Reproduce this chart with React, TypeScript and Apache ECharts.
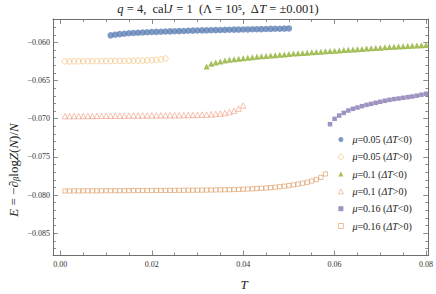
import React, { useEffect, useRef } from "react";
import * as echarts from "echarts";

// ---- data ----
const T_B = [0.011,0.012,0.013,0.014,0.015,0.016,0.017,0.018,0.019,0.020,0.021,0.022,0.023,0.024,0.025,0.026,0.027,0.028,0.029,0.030,0.031,0.032,0.033,0.034,0.035,0.036,0.037,0.038,0.039,0.040,0.041,0.042,0.043,0.044,0.045,0.046,0.047,0.048,0.049,0.050];
const E_B = [-0.05908,-0.05899,-0.05892,-0.05886,-0.05881,-0.05877,-0.05873,-0.05870,-0.05867,-0.05864,-0.05862,-0.05860,-0.05858,-0.05856,-0.05854,-0.05852,-0.05850,-0.05848,-0.05846,-0.05845,-0.05843,-0.05842,-0.05840,-0.05839,-0.05837,-0.05836,-0.05835,-0.05833,-0.05832,-0.05831,-0.05830,-0.05828,-0.05827,-0.05826,-0.05825,-0.05823,-0.05822,-0.05821,-0.05819,-0.05817];

const T_O = [0.001,0.002,0.003,0.004,0.005,0.006,0.007,0.008,0.009,0.010,0.011,0.012,0.013,0.014,0.015,0.016,0.017,0.018,0.019,0.020,0.021,0.022,0.023];
const E_O = [-0.06249,-0.06249,-0.06248,-0.06248,-0.06247,-0.06247,-0.06246,-0.06246,-0.06245,-0.06245,-0.06244,-0.06244,-0.06243,-0.06242,-0.06241,-0.06240,-0.06239,-0.06237,-0.06235,-0.06233,-0.06228,-0.06222,-0.06212];

const T_G = [0.032,0.033,0.034,0.035,0.036,0.037,0.038,0.039,0.040,0.041,0.042,0.043,0.044,0.045,0.046,0.047,0.048,0.049,0.050,0.051,0.052,0.053,0.054,0.055,0.056,0.057,0.058,0.059,0.060,0.061,0.062,0.063,0.064,0.065,0.066,0.067,0.068,0.069,0.070,0.071,0.072,0.073,0.074,0.075,0.076,0.077,0.078,0.079,0.080];
const E_G = [-0.06315,-0.06280,-0.06262,-0.06250,-0.06238,-0.06228,-0.06221,-0.06214,-0.06207,-0.06200,-0.06194,-0.06188,-0.06182,-0.06177,-0.06172,-0.06167,-0.06162,-0.06157,-0.06152,-0.06147,-0.06142,-0.06138,-0.06134,-0.06129,-0.06125,-0.06121,-0.06117,-0.06113,-0.06109,-0.06105,-0.06101,-0.06097,-0.06093,-0.06089,-0.06085,-0.06081,-0.06077,-0.06073,-0.06069,-0.06065,-0.06061,-0.06058,-0.06054,-0.06050,-0.06047,-0.06044,-0.06041,-0.06038,-0.06035];

const T_R = [0.001,0.002,0.003,0.004,0.005,0.006,0.007,0.008,0.009,0.010,0.011,0.012,0.013,0.014,0.015,0.016,0.017,0.018,0.019,0.020,0.021,0.022,0.023,0.024,0.025,0.026,0.027,0.028,0.029,0.030,0.031,0.032,0.033,0.034,0.035,0.036,0.037,0.038,0.039,0.040];
const E_R = [-0.06966,-0.06965,-0.06965,-0.06964,-0.06964,-0.06963,-0.06963,-0.06962,-0.06962,-0.06961,-0.06961,-0.06960,-0.06960,-0.06959,-0.06959,-0.06958,-0.06958,-0.06957,-0.06957,-0.06956,-0.06956,-0.06955,-0.06955,-0.06954,-0.06953,-0.06953,-0.06952,-0.06951,-0.06950,-0.06949,-0.06947,-0.06945,-0.06942,-0.06938,-0.06932,-0.06924,-0.06912,-0.06895,-0.06868,-0.06827];

const T_P = [0.059,0.060,0.061,0.062,0.063,0.064,0.065,0.066,0.067,0.068,0.069,0.070,0.071,0.072,0.073,0.074,0.075,0.076,0.077,0.078,0.079,0.080];
const E_P = [-0.07071,-0.07001,-0.06958,-0.06923,-0.06892,-0.06870,-0.06853,-0.06835,-0.06818,-0.06805,-0.06791,-0.06778,-0.06765,-0.06752,-0.06743,-0.06735,-0.06726,-0.06717,-0.06709,-0.06698,-0.06686,-0.06673];

const T_S = [0.001,0.002,0.003,0.004,0.005,0.006,0.007,0.008,0.009,0.010,0.011,0.012,0.013,0.014,0.015,0.016,0.017,0.018,0.019,0.020,0.021,0.022,0.023,0.024,0.025,0.026,0.027,0.028,0.029,0.030,0.031,0.032,0.033,0.034,0.035,0.036,0.037,0.038,0.039,0.040,0.041,0.042,0.043,0.044,0.045,0.046,0.047,0.048,0.049,0.050,0.051,0.052,0.053,0.054,0.055,0.056,0.057,0.058];
const E_S = [-0.07946,-0.07946,-0.07945,-0.07945,-0.07945,-0.07944,-0.07944,-0.07944,-0.07943,-0.07943,-0.07943,-0.07942,-0.07942,-0.07942,-0.07941,-0.07941,-0.07941,-0.07940,-0.07940,-0.07940,-0.07939,-0.07939,-0.07939,-0.07938,-0.07938,-0.07937,-0.07937,-0.07936,-0.07936,-0.07935,-0.07935,-0.07934,-0.07933,-0.07932,-0.07931,-0.07930,-0.07929,-0.07927,-0.07925,-0.07923,-0.07921,-0.07918,-0.07915,-0.07911,-0.07907,-0.07902,-0.07897,-0.07890,-0.07883,-0.07875,-0.07866,-0.07856,-0.07845,-0.07832,-0.07816,-0.07796,-0.07768,-0.07723];

const X_MAJOR = [0, 0.02, 0.04, 0.06, 0.08];
const X_MINOR = [0.005,0.01,0.015,0.025,0.03,0.035,0.045,0.05,0.055,0.065,0.07,0.075];
const Y_MAJOR = [-0.085, -0.08, -0.075, -0.07, -0.065, -0.06];
const Y_MINOR = [-0.087,-0.086,-0.084,-0.083,-0.082,-0.081,-0.079,-0.078,-0.077,-0.076,-0.074,-0.073,-0.072,-0.071,-0.069,-0.068,-0.067,-0.066,-0.064,-0.063,-0.062,-0.061,-0.059,-0.058,-0.057];

const LEGEND_LABELS = [
  "{i|μ}=0.05 ({i|ΔT}<0)",
  "{i|μ}=0.05 ({i|ΔT}>0)",
  "{i|μ}=0.1 ({i|ΔT}<0)",
  "{i|μ}=0.1 ({i|ΔT}>0)",
  "{i|μ}=0.16 ({i|ΔT}<0)",
  "{i|μ}=0.16 ({i|ΔT}>0)",
];
const SERIES_KEYS = ["s1", "s2", "s3", "s4", "s5", "s6"];

const FONT = "'Liberation Serif', 'DejaVu Serif', serif";
const FRAME = "#6e6e6e";
const LABEL = "#333333";

const X_MIN = -0.00161, X_MAX = 0.0805;
const Y_MIN = -0.08791, Y_MAX = -0.056936;

function pairs(t: number[], e: number[]) {
  return t.map((v, i) => [v, e[i]]);
}

export default function App() {
  const ref = useRef<HTMLDivElement>(null);
  useEffect(() => {
    if (!ref.current) return;
    const chart = echarts.init(ref.current, null, { renderer: "svg" });

    const tickLbl = { fontFamily: FONT, fontSize: 8, color: LABEL };
    const xAx = (pos: string, vals: number[], len: number, labels: boolean, line: boolean) => ({
      type: "value", min: X_MIN, max: X_MAX, position: pos,
      axisLine: { show: line, onZero: false, lineStyle: { color: FRAME, width: 1 } },
      axisTick: { show: true, inside: true, length: len, customValues: vals, lineStyle: { color: FRAME, width: 0.8 } },
      axisLabel: labels
        ? { show: true, customValues: vals, formatter: (v: number) => "{a|" + v.toFixed(2) + "}", ...tickLbl, margin: 5, rich: { a: tickLbl } }
        : { show: false },
      splitLine: { show: false },
    });
    const yAx = (pos: string, vals: number[], len: number, labels: boolean, line: boolean) => ({
      type: "value", min: Y_MIN, max: Y_MAX, position: pos,
      axisLine: { show: line, onZero: false, lineStyle: { color: FRAME, width: 1 } },
      axisTick: { show: true, inside: true, length: len, customValues: vals, lineStyle: { color: FRAME, width: 0.8 } },
      axisLabel: labels
        ? { show: true, customValues: vals, formatter: (v: number) => "{a|−" + Math.abs(v).toFixed(3) + "}", ...tickLbl, margin: 3, rich: { a: tickLbl } }
        : { show: false },
      splitLine: { show: false },
    });

    const OPEN_O = "#F2BC6C", OPEN_R = "#F39C82", OPEN_S = "#DC985C";
    const seriesDefs = [
      { t: T_B, e: E_B, symbol: "circle", size: 6.5, style: { color: "#5E81B5" } },
      { t: T_O, e: E_O, symbol: "circle", size: 5.5, style: { color: "rgba(255,255,255,0)", borderColor: OPEN_O, borderWidth: 0.8 } },
      { t: T_G, e: E_G, symbol: "triangle", size: 6, style: { color: "#8FB032" } },
      { t: T_R, e: E_R, symbol: "triangle", size: 5.5, style: { color: "rgba(255,255,255,0)", borderColor: OPEN_R, borderWidth: 0.8 } },
      { t: T_P, e: E_P, symbol: "rect", size: 4.5, style: { color: "#8778B3" } },
      { t: T_S, e: E_S, symbol: "rect", size: 4.2, style: { color: "rgba(255,255,255,0)", borderColor: OPEN_S, borderWidth: 0.8 } },
    ];

    const labelMap: Record<string, string> = {};
    SERIES_KEYS.forEach((k, i) => (labelMap[k] = LEGEND_LABELS[i]));

    const legendData = SERIES_KEYS.map((k, i) => {
      const d = seriesDefs[i];
      const st: any = d.style;
      return {
        name: k,
        icon: d.symbol,
        itemStyle: st.borderColor
          ? { color: "rgba(255,255,255,0)", borderColor: st.borderColor, borderWidth: 0.8 }
          : { color: st.color, borderWidth: 0 },
      };
    });

    chart.setOption({
      animation: false,
      backgroundColor: "#ffffff",
      grid: { left: 53, top: 19, width: 377, height: 236.5, containLabel: false },
      title: {
        text: "{i|q} = 4,  cal{i|J} = 1  (Λ = 10⁵,  Δ{i|T} = ±0.001)",
        left: "center",
        top: 1,
        padding: 0,
        textStyle: {
          fontFamily: FONT, fontSize: 12.5, fontWeight: "normal", color: "#222", lineHeight: 15,
          rich: { i: { fontFamily: FONT, fontSize: 12.5, fontStyle: "italic", color: "#222", lineHeight: 15 } },
        },
      },
      legend: {
        orient: "vertical",
        left: 338,
        top: 133.5,
        padding: 0,
        itemWidth: 5,
        itemHeight: 5,
        itemGap: 5.3,
        data: legendData,
        formatter: (name: string) => labelMap[name],
        textStyle: {
          fontFamily: FONT, fontSize: 10, color: "#222", lineHeight: 12, padding: [0, 0, 0, 4],
          rich: { i: { fontFamily: FONT, fontSize: 10, fontStyle: "italic", color: "#222", lineHeight: 12 } },
        },
      },
      xAxis: [
        xAx("bottom", X_MAJOR, 5, true, true),
        xAx("bottom", X_MINOR, 3, false, false),
        xAx("top", X_MAJOR, 5, false, true),
        xAx("top", X_MINOR, 3, false, false),
      ],
      yAxis: [
        yAx("left", Y_MAJOR, 5, true, true),
        yAx("left", Y_MINOR, 3, false, false),
        yAx("right", Y_MAJOR, 5, false, true),
        yAx("right", Y_MINOR, 3, false, false),
      ],
      graphic: [
        {
          type: "text",
          x: 13,
          y: 170,
          rotation: Math.PI / 2,
          style: {
            text: "{i|E} = −∂{sub|β}log{i|Z}({i|N})/{i|N}",
            fontFamily: FONT, fontSize: 13, fill: "#222",
            align: "center", verticalAlign: "middle",
            rich: {
              i: { fontFamily: FONT, fontSize: 13, fontStyle: "italic", fill: "#222" },
              sub: { fontFamily: FONT, fontSize: 9, fontStyle: "italic", fill: "#222", padding: [6, 0, 0, 0] },
            },
          },
        },
        {
          type: "text",
          x: 244,
          y: 284,
          style: {
            text: "T",
            fontFamily: FONT, fontSize: 13, fontStyle: "italic", fill: "#222",
            align: "center", verticalAlign: "middle",
          },
        },
      ],
      series: seriesDefs.map((d, i) => ({
        name: SERIES_KEYS[i],
        type: "scatter",
        xAxisIndex: 0,
        yAxisIndex: 0,
        symbol: d.symbol,
        symbolSize: d.size,
        itemStyle: d.style,
        data: pairs(d.t, d.e),
      })),
    });
    return () => chart.dispose();
  }, []);
  return (
    <div
      ref={ref}
      style={{ position: "fixed", left: 0, top: 0, width: 436, height: 294, background: "#fff" }}
    />
  );
}
